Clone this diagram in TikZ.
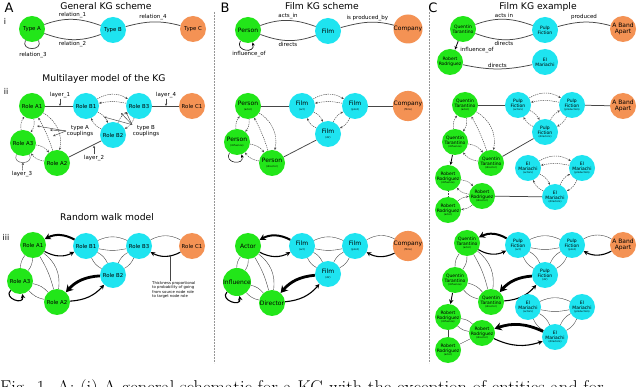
\documentclass[tikz,border=0pt]{standalone}
\usepackage{fontspec}
\setsansfont{DejaVu Sans}
\usetikzlibrary{arrows.meta}
\definecolor{ngreen}{RGB}{34,230,25}
\definecolor{ncyan}{RGB}{30,228,240}
\definecolor{norange}{RGB}{244,146,84}
\definecolor{lgray}{RGB}{70,70,70}
\definecolor{divgray}{RGB}{150,150,150}
\newcommand\fA{\sffamily\fontsize{5.4}{5.9}\selectfont}
\newcommand\fB{\sffamily\fontsize{6}{6.4}\selectfont}
\newcommand\fC{\sffamily\fontsize{4.5}{4.9}\selectfont}
\newcommand\fL{\sffamily\fontsize{5.5}{5.9}\selectfont}
\newcommand\fT{\sffamily\fontsize{9.2}{10}\selectfont}
\newcommand\fP{\sffamily\fontsize{13}{14}\selectfont}
\newcommand\fR{\sffamily\fontsize{8}{9}\selectfont}
\newcommand\fN{\sffamily\fontsize{3.8}{4.5}\selectfont}
\newcommand\subl[1]{\\[-1.2pt]{\fontsize{2.5}{3}\selectfont(#1)}}
\newcommand\lens[4]{\draw[#1] (#2) to[bend left=#4] (#3); \draw[#1] (#3) to[bend left=#4] (#2);}
\newcommand\IIedges[1]{%
 \draw[sol] (#1a1) -- (#1b1);
 \draw[sol] (#1b3) -- (#1c1);
 \draw[sol] (#1a2) -- (#1b2);
 \lens{dsh}{#1a1}{#1a3}{22}
 \draw[dsh] (#1a1) to[bend left=35] (#1a2);
 \draw[dsh] (#1a2) to[bend right=5] (#1a1);
 \lens{dsh}{#1a3}{#1a2}{22}
 \draw[dsh] (#1b1) to[bend left=32] (#1b3);
 \draw[dsh] (#1b3) to[bend right=12] (#1b1);
 \lens{dsh}{#1b1}{#1b2}{20}
 \lens{dsh}{#1b3}{#1b2}{20}
}
\newcommand\IIIedges[1]{%
 \draw[ar2] (#1b1) to[bend right=28] (#1a1);
 \draw[ar1] (#1a1) to[bend right=28] (#1b1);
 \draw[thn] (#1b1) to[bend left=25] (#1b3);
 \draw[thn] (#1b3) to[bend left=12] (#1b1);
 \draw[thn] (#1b3) to[bend left=28] (#1c1);
 \draw[ar1] (#1c1) to[bend left=28] (#1b3);
 \lens{thn}{#1b1}{#1b2}{18}
 \lens{thn}{#1b3}{#1b2}{18}
 \lens{thn}{#1a1}{#1a3}{18}
 \draw[thn] (#1a1) to[bend left=30] (#1a2);
 \draw[thn] (#1a2) to[bend right=8] (#1a1);
 \lens{thn}{#1a3}{#1a2}{18}
 \draw[ar3] (#1b2) to[bend right=22] (#1a2);
 \draw[ar1] (#1a2) to[bend right=22] (#1b2);
}
\tikzset{
 nbase/.style={circle, minimum size=26pt, inner sep=0pt, align=center, font=\fA, text=black},
 nG/.style={nbase, fill=ngreen},
 nC/.style={nbase, fill=ncyan},
 nO/.style={nbase, fill=norange},
 sol/.style={draw=lgray, line width=0.75pt},
 thn/.style={draw=lgray, line width=0.4pt},
 dsh/.style={draw=lgray, line width=0.45pt, dash pattern=on 1.3pt off 0.9pt, -{Stealth[length=2.6pt,width=2.2pt]}},
 ar1/.style={draw=black, line width=1.1pt, -{Stealth[length=4.5pt,width=4.5pt]}},
 ar2/.style={draw=black, line width=2pt, -{Stealth[length=6pt,width=6.5pt]}},
 ar3/.style={draw=black, line width=2.8pt, -{Stealth[length=7pt,width=8pt]}},
 inf/.style={draw=black, line width=0.8pt, -{Stealth[length=3.5pt,width=3pt]}},
 lab/.style={font=\fL, inner sep=0.6pt},
 ttl/.style={font=\fT, inner sep=0pt},
 plet/.style={font=\fP, inner sep=0pt},
 rom/.style={font=\fR, inner sep=0pt},
 ann/.style={draw=lgray, line width=0.45pt, -{Stealth[length=2.5pt,width=2.2pt]}},
 divl/.style={draw=divgray, line width=0.6pt, dash pattern=on 2pt off 1pt},
}
\begin{document}
\begin{tikzpicture}[x=1pt,y=-1pt]
\useasboundingbox (0,0) rectangle (640,387);
\fill[white] (0,0) rectangle (640,387);

\draw[divl] (214,12) -- (214,363);
\draw[divl] (429,12) -- (429,363);

\node[plet] (LA) at (9,8) {A};
\node[plet] (LB) at (225,8) {B};
\node[plet] (LC) at (433,8) {C};
\node[rom] (Ri) at (5,21) {i};
\node[rom] (Rii) at (6,91) {ii};
\node[rom] (Riii) at (6,237) {iii};
\node[ttl] (T1) at (106,6.5) {General KG scheme};
\node[ttl] (T2) at (104,79) {Multilayer model of the KG};
\node[ttl] (T3) at (107,217) {Random walk model};
\node[ttl] (T4) at (322,6.5) {Film KG scheme};
\node[ttl] (T5) at (538,6.5) {Film KG example};

% ---------- A i
\node[nG] (TA) at (32,29) {Type A};
\node[nC] (TB) at (113,30) {Type B};
\node[nO] (TC) at (193,29) {Type C};
\draw[sol] (TA) to[out=20,in=160] node[lab,above=1pt]{relation\_1} (TB);
\draw[sol] (TA) to[out=-20,in=-160] node[lab,below=1pt]{relation\_2} (TB);
\draw[sol] (TA.-120) .. controls +(115:12) and +(65:12) .. (TA.-60);
\node[lab] (r3) at (33,55) {relation\_3};
\draw[sol] (TB) to[out=15,in=165] node[lab,above=1pt]{relation\_4} (TC);

% ---------- A ii
\node[nG] (Aa1) at (32,106) {Role A1};
\node[nC] (Ab1) at (86,106) {Role B1};
\node[nC] (Ab3) at (139,106) {Role B3};
\node[nO] (Ac1) at (192,106) {Role C1};
\node[nG] (Aa3) at (23,143) {Role A3};
\node[nG] (Aa2) at (57,163) {Role A2};
\node[nC] (Ab2) at (113,135) {Role B2};
\IIedges{A}
\draw[thn] (Aa3.-120) .. controls +(115:12) and +(65:12) .. (Aa3.-60);
\node[lab] (l1) at (60,95) {layer\_1};
\coordinate (l1t) at (60,106);
\draw[ann] (l1) -- (l1t);
\node[lab] (l4) at (166,95) {layer\_4};
\coordinate (l4t) at (166,106);
\draw[ann] (l4) -- (l4t);
\node[lab] (l2) at (94,158) {layer\_2};
\coordinate (l2t) at (94,145.5);
\draw[ann] (l2) -- (l2t);
\node[lab] (l3) at (22,174) {layer\_3};
\coordinate (l3t) at (23,162.5);
\draw[ann] (l3) -- (l3t);
\node[lab, align=center] (tA) at (80,131) {type A\\couplings};
\coordinate (tA1) at (37,126);
\coordinate (tA2) at (50,130);
\coordinate (tA3) at (53,136);
\draw[ann] (tA.west) -- (tA1);
\draw[ann] (tA.west) -- (tA2);
\draw[ann] (tA.west) -- (tA3);
\node[lab, align=center] (tB) at (146,131) {type B\\couplings};
\coordinate (tB1) at (104,117);
\coordinate (tB2) at (121,113);
\coordinate (tB3) at (126,112);
\draw[ann] (tB.north west) -- (tB1);
\draw[ann] (tB.north west) -- (tB2);
\draw[ann] (tB.north west) -- (tB3);

% ---------- A iii
\node[nG] (Ra1) at (33,245) {Role A1};
\node[nC] (Rb1) at (86,246) {Role B1};
\node[nC] (Rb3) at (139,246) {Role B3};
\node[nO] (Rc1) at (192,246) {Role C1};
\node[nG] (Ra3) at (20,281) {Role A3};
\node[nG] (Ra2) at (57,302) {Role A2};
\node[nC] (Rb2) at (113,275) {Role B2};
\IIIedges{R}
\draw[ar1] (Ra3.225) .. controls +(135:11) and +(80:12) .. (Ra3.-80);
\node[font=\fN, align=left, anchor=north west, inner sep=0pt] (note) at (152,281) {Thickness proportional\\to probability of going\\from source node role\\to target node role};
\coordinate (nb) at (170,281);
\coordinate (nt) at (170,254.5);
\draw[ann] (nb) -- (nt);

% ---------- B i
\node[nG, font=\fB] (BP) at (248,30) {Person};
\node[nC, font=\fB] (BF) at (328,31) {Film};
\node[nO, font=\fB] (BC) at (408,29) {Company};
\draw[sol] (BP) to[out=20,in=160] node[lab,above=1pt]{acts\_in} (BF);
\draw[sol] (BP) to[out=-20,in=-160] node[lab,below=1pt]{directs} (BF);
\draw[sol] (BF) to[out=15,in=165] node[lab,above=1pt]{is produced\_by} (BC);
\draw[inf, line width=0.6pt] (BP.-125) .. controls +(120:12) and +(75:12) .. (BP.-70);
\node[lab] (io) at (249,54) {influence\_of};

% ---------- B ii
\node[nG, font=\fB] (Ba1) at (248,106) {Person\subl{actor}};
\node[nC, font=\fB] (Bb1) at (302,106) {Film\subl{act}};
\node[nC, font=\fB] (Bb3) at (355,106) {Film\subl{prod}};
\node[nO, font=\fB] (Bc1) at (408,106) {Company\subl{films}};
\node[nG, font=\fB] (Ba3) at (237,142) {Person\subl{influence}};
\node[nG, font=\fB] (Ba2) at (272,163) {Person\subl{director}};
\node[nC, font=\fB] (Bb2) at (328,134) {Film\subl{dir}};
\IIedges{B}
\draw[inf, line width=0.5pt] (Ba3.-125) .. controls +(120:12) and +(75:12) .. (Ba3.-70);

% ---------- B iii
\node[nG, font=\fB] (Sa1) at (248,246) {Actor};
\node[nC, font=\fB] (Sb1) at (302,246) {Film\subl{act}};
\node[nC, font=\fB] (Sb3) at (355,246) {Film\subl{prod}};
\node[nO, font=\fB] (Sc1) at (408,246) {Company\subl{films}};
\node[nG, font=\fB] (Sa3) at (237,282) {Influence};
\node[nG, font=\fB] (Sa2) at (272,303) {Director};
\node[nC, font=\fB] (Sb2) at (328,274) {Film\subl{dir}};
\IIIedges{S}
\draw[ar1] (Sa3.225) .. controls +(135:11) and +(80:12) .. (Sa3.-80);

% ---------- C i
\node[nG, font=\fC] (Cq) at (463,29) {Quentin\\Tarantino};
\node[nC, font=\fC] (Cp) at (545,30) {Pulp\\Fiction};
\node[nO, font=\fB] (Cab) at (623,29) {A Band\\Apart};
\node[nG, font=\fC] (Cr) at (450,62) {Robert\\Rodriguez};
\node[nC, font=\fC] (Ce) at (545,62) {El\\Mariachi};
\draw[sol] (Cq) to[out=20,in=160] node[lab,above=1pt]{acts in} (Cp);
\draw[sol] (Cq) to[out=-20,in=-160] node[lab,below=1pt]{directs} (Cp);
\draw[sol] (Cp) to[out=15,in=165] node[lab,above=1pt]{produced} (Cab);
\draw[inf] (Cq) -- (Cr);
\node[lab] (cio) at (477,50) {influence\_of};
\draw[sol] (Cr) to[out=-12,in=-168] node[lab,above=0.5pt]{directs} (Ce);

% ---------- C ii
\node[nG, font=\fC] (Da1) at (465,105) {Quentin\\Tarantino\subl{actor}};
\node[nC, font=\fC] (Db1) at (518,105) {Pulp\\Fiction\subl{actors}};
\node[nC, font=\fC] (Db3) at (572,105) {Pulp\\Fiction\subl{production}};
\node[nO, font=\fB] (Dc1) at (623,106) {A Band\\Apart};
\node[nG, font=\fC] (Da3) at (455,142) {Quentin\\Tarantino\subl{influence}};
\node[nG, font=\fC] (Da2) at (491,163) {Quentin\\Tarantino\subl{director}};
\node[nC, font=\fC] (Db2) at (545,132) {Pulp\\Fiction\subl{directors}};
\IIedges{D}
\node[nG, font=\fC] (Dr1) at (448,178) {Robert\\Rodriguez\subl{influence}};
\node[nG, font=\fC] (Dr2) at (482,196) {Robert\\Rodriguez\subl{director}};
\node[nG, font=\fC] (Dr3) at (448,210) {Robert\\Rodriguez\subl{actor}};
\node[nC, font=\fC] (De1) at (528,168) {El\\Mariachi\subl{actors}};
\node[nC, font=\fC] (De2) at (582,168) {El\\Mariachi\subl{production}};
\node[nC, font=\fC] (De3) at (555,197) {El\\Mariachi\subl{directors}};
\draw[sol] (Dr2) -- (De3);
\draw[dsh] (De1) to[bend left=32] (De2);
\draw[dsh] (De2) to[bend right=12] (De1);
\lens{dsh}{De1}{De3}{20}
\lens{dsh}{De2}{De3}{20}
\lens{dsh}{Dr1}{Dr2}{20}
\lens{dsh}{Dr3}{Dr2}{20}
\draw[dsh,-] (Dr1) -- (Dr3);
\draw[inf] (Da3) -- (Dr1);

% ---------- C iii
\node[nG, font=\fC] (Ea1) at (467,243) {Quentin\\Tarantino\subl{actor}};
\node[nC, font=\fC] (Eb1) at (518,245) {Pulp\\Fiction\subl{act}};
\node[nC, font=\fC] (Eb3) at (572,245) {Pulp\\Fiction\subl{prod}};
\node[nO, font=\fB] (Ec1) at (623,245) {A Band\\Apart};
\node[nG, font=\fC] (Ea3) at (455,280) {Quentin\\Tarantino\subl{influence}};
\node[nG, font=\fC] (Ea2) at (491,302) {Quentin\\Tarantino\subl{director}};
\node[nC, font=\fC] (Eb2) at (545,275) {Pulp\\Fiction\subl{dir}};
\IIIedges{E}
\node[nG, font=\fC] (Er1) at (448,317) {Robert\\Rodriguez\subl{influence}};
\node[nG, font=\fC] (Er2) at (482,333) {Robert\\Rodriguez\subl{director}};
\node[nG, font=\fC] (Er3) at (448,350) {Robert\\Rodriguez\subl{actor}};
\node[nC, font=\fC] (Ee1) at (528,307) {El\\Mariachi\subl{actors}};
\node[nC, font=\fC] (Ee2) at (582,307) {El\\Mariachi\subl{production}};
\node[nC, font=\fC] (Ee3) at (555,337) {El\\Mariachi\subl{directors}};
\draw[thn] (Ee1) to[bend left=25] (Ee2);
\draw[thn] (Ee2) to[bend left=12] (Ee1);
\lens{thn}{Ee1}{Ee3}{18}
\lens{thn}{Ee2}{Ee3}{18}
\draw[ar3] (Ee3) to[bend right=22] (Er2);
\draw[ar1] (Er2) to[bend right=22] (Ee3);
\lens{thn}{Er1}{Er2}{18}
\draw[thn] (Er3) -- (Er2);
\draw[thn] (Er1) -- (Er3);
\draw[ar1, line width=0.9pt] (Ea3) -- (Er1);

% ---------- caption (cut off by the page edge)
\node[anchor=base west, inner sep=0pt, font=\fontsize{18.5}{20}\selectfont] (cap) at (0,393.5) {Fig. 1. A: (i) A general schematic for a KG with the exception of entities and for};
\end{tikzpicture}
\end{document}
